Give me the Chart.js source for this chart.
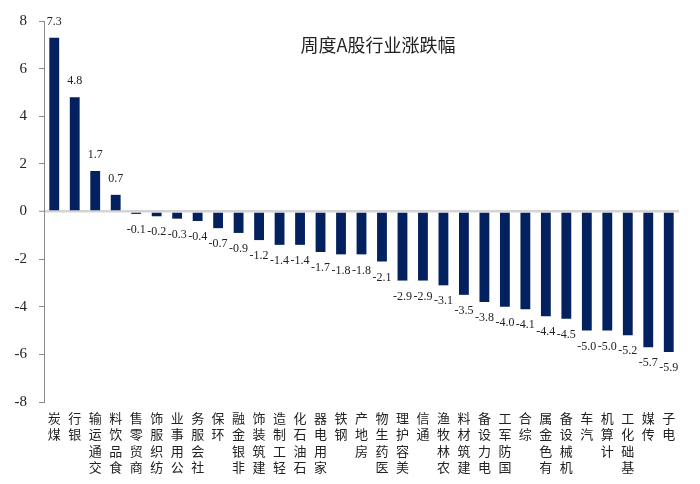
<!DOCTYPE html>
<html>
<head>
<meta charset="utf-8">
<script src="https://cdn.jsdelivr.net/npm/chart.js@4/dist/chart.umd.min.js"></script>
<style>
  html, body { margin: 0; padding: 0; background: #fff; }
  #wrap { width: 700px; height: 484px; position: relative; }
</style>
</head>
<body>
<div id="wrap"><canvas id="chart"></canvas></div>
<script>
// weekly A-share industry returns (%)
const industries = ['煤炭', '银行', '交通运输', '食品饮料', '商贸零售', '纺织服饰', '公用事业', '社会服务', '环保', '非银金融',
  '建筑装饰', '轻工制造', '石油石化', '家用电器', '钢铁', '房地产', '医药生物', '美容护理', '通信', '农林牧渔',
  '建筑材料', '电力设备', '国防军工', '综合', '有色金属', '机械设备', '汽车', '计算机', '基础化工', '传媒', '电子'];
const weeklyChange = [7.3, 4.8, 1.7, 0.7, -0.1, -0.2, -0.3, -0.4, -0.7, -0.9,
  -1.2, -1.4, -1.4, -1.7, -1.8, -1.8, -2.1, -2.9, -2.9, -3.1,
  -3.5, -3.8, -4.0, -4.1, -4.4, -4.5, -5.0, -5.0, -5.2, -5.7, -5.9];
const yTicks = [-8, -6, -4, -2, 0, 2, 4, 6, 8];
const chartTitle = '周度A股行业涨跌幅';

const NAVY = '#03205f';
const SERIF = '"Liberation Serif", "Times New Roman", serif';
const CJK = '"Noto Sans CJK SC", sans-serif';

// stacked upright characters, read bottom-to-top like the source sheet
const stackedLabels = industries.map(s => s.split('').reverse());

const valueLabels = {
  id: 'valueLabels',
  afterDatasetsDraw(chart) {
    const ctx = chart.ctx;
    const meta = chart.getDatasetMeta(0);
    ctx.save();
    ctx.font = '12px ' + SERIF;
    ctx.fillStyle = '#222';
    ctx.textAlign = 'center';
    ctx.textBaseline = 'middle';
    meta.data.forEach((bar, i) => {
      const v = weeklyChange[i];
      const y = v >= 0 ? bar.y - 16 : bar.y + 16;
      ctx.fillText(v.toFixed(1), bar.x, y);
    });
    ctx.restore();
  }
};

const titleText = {
  id: 'titleText',
  afterDraw(chart) {
    const ctx = chart.ctx;
    ctx.save();
    ctx.font = '18px ' + CJK;
    ctx.fillStyle = '#222';
    ctx.textAlign = 'center';
    ctx.textBaseline = 'middle';
    ctx.fillText(chartTitle, 378, 45);
    ctx.restore();
  }
};

new Chart(document.getElementById('chart'), {
  type: 'bar',
  data: {
    labels: stackedLabels,
    datasets: [{
      data: weeklyChange,
      backgroundColor: NAVY,
      categoryPercentage: 1,
      barPercentage: 0.48,
    }],
  },
  options: {
    responsive: true,
    maintainAspectRatio: false,
    animation: false,
    layout: { padding: { top: 20, right: 21, left: 0, bottom: 0 } },
    plugins: { legend: { display: false }, tooltip: { enabled: false } },
    scales: {
      x: {
        grid: { display: false, drawTicks: false },
        border: { display: false },
        ticks: {
          autoSkip: false, maxRotation: 0, minRotation: 0, padding: 8,
          color: '#222', font: { family: CJK, size: 13, lineHeight: 1.25 },
        },
        afterFit: (s) => { s.height = 82; },
      },
      y: {
        min: -8, max: 8,
        afterBuildTicks: (s) => { s.ticks = yTicks.map(v => ({ value: v })); },
        border: { display: true, color: '#888', width: 1 },
        grid: {
          color: (c) => (c.tick && c.tick.value === 0 ? '#d4d4d4' : 'rgba(0,0,0,0)'),
          lineWidth: (c) => (c.tick && c.tick.value === 0 ? 2.5 : 1),
          tickColor: '#888', tickWidth: 1, tickLength: 5,
        },
        ticks: { color: '#222', padding: 12, font: { family: SERIF, size: 15 } },
        afterFit: (s) => { s.width = 44; },
      },
    },
  },
  plugins: [valueLabels, titleText],
});
</script>
</body>
</html>
